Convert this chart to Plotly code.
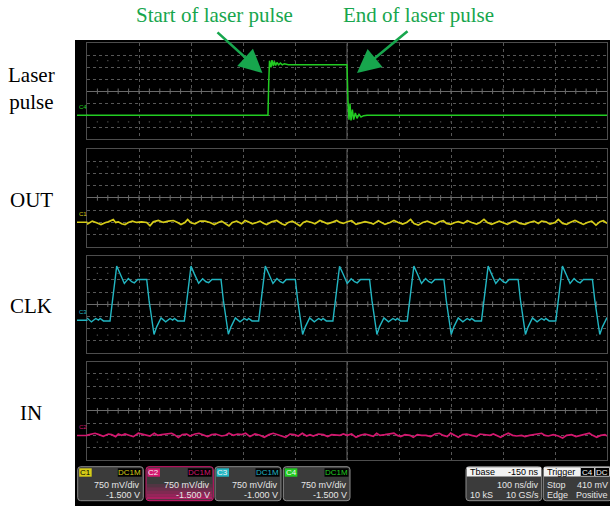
import plotly.graph_objects as go

# ---------------- data (time in ns, amplitude in divisions) ----------------
LASER_T = [0, 120, 250, 348.0, 349.4, 351.0, 353.8, 355.7, 358.3, 360.2, 362.8, 365.4, 368.6, 371.8,
           375.6, 379.5, 387.2, 440, 500.0, 501.9, 503.8, 505.8, 507.7, 510.3, 512.8, 516.0, 519.2,
           523.1, 526.9, 532.1, 538.5, 700, 1000]
LASER_V = [-2.0, -1.98, -2.0, -2.0, 0.6, 2.55, 2.0, 2.6, 2.1, 2.5, 2.15, 2.4, 2.2, 2.35,
           2.2, 2.3, 2.22, 2.23, 2.22, -0.83, -2.36, -1.03, -2.42, -1.53, -2.36, -1.81, -2.25,
           -1.92, -2.14, -2.03, -2.0, -1.99, -2.0]

OUT_T = [0.0, 2.5, 10.2, 18.6, 26.9, 35.9, 41.0, 50.6, 55.1, 60.2, 66.6, 73.1, 79.5, 87.2, 95.5,
         105.1, 114.7, 121.1, 127.5, 137.2, 146.8, 156.4, 166.0, 174.3, 180.7, 188.4, 193.6, 200.0,
         207.7, 217.3, 226.9, 236.5, 244.8, 252.5, 258.9, 266.6, 273.0, 279.5, 287.8, 297.4, 303.8,
         310.2, 317.9, 326.3, 332.7, 339.1, 345.5, 355.1, 364.7, 374.3, 380.7, 387.1, 394.8, 403.2,
         409.6, 416.0, 422.4, 432.0, 438.4, 448.0, 454.5, 462.8, 473.7, 480.1, 486.5, 492.9, 500.6,
         508.9, 517.3, 525.0, 534.6, 544.2, 550.6, 560.2, 566.6, 573.0, 582.7, 590.3, 598.7, 607.0,
         614.7, 622.4, 628.8, 637.1, 645.5, 654.4, 662.8, 669.2, 677.5, 685.2, 691.6, 699.3, 707.6,
         714.1, 723.7, 731.4, 739.7, 749.3, 755.7, 763.4, 769.8, 778.2, 786.5, 792.9, 800.6, 808.3,
         814.7, 823.0, 832.6, 842.3, 850.6, 859.6, 867.9, 874.3, 882.7, 890.3, 900.0, 906.4, 914.7,
         922.4, 928.8, 938.4, 946.7, 954.4, 962.1, 970.5, 978.8, 986.5, 992.9, 1000.0]
OUT_V = [-2.16, -2.10, -1.91, -2.05, -2.19, -2.02, -1.97, -1.78, -2.02, -1.97, -2.13, -2.19, -2.02,
         -1.91, -2.02, -1.97, -2.02, -2.30, -1.97, -1.86, -2.02, -1.91, -1.86, -2.02, -2.19, -2.02,
         -1.78, -2.05, -2.13, -1.91, -1.91, -2.02, -2.19, -2.02, -1.91, -2.13, -2.30, -2.02, -1.91,
         -2.13, -1.86, -1.97, -2.13, -2.02, -1.91, -2.08, -2.19, -1.97, -1.86, -2.13, -2.24, -2.02,
         -1.91, -2.13, -2.30, -2.02, -1.91, -2.02, -2.13, -1.86, -1.97, -2.13, -1.97, -1.86, -2.02,
         -2.10, -1.96, -1.88, -2.18, -2.10, -1.96, -2.05, -2.16, -1.88, -2.02, -2.18, -2.02, -1.86,
         -2.02, -2.16, -2.02, -1.77, -2.10, -2.24, -2.02, -1.91, -2.07, -2.18, -1.96, -1.88, -2.10,
         -2.18, -2.02, -1.96, -2.10, -1.88, -2.02, -2.16, -2.02, -1.77, -2.02, -2.18, -2.02, -1.91,
         -2.05, -2.18, -2.02, -1.88, -2.10, -2.18, -2.02, -1.91, -2.10, -1.91, -1.96, -2.16, -2.02,
         -1.77, -2.10, -2.18, -2.02, -1.86, -2.02, -2.18, -2.02, -1.91, -2.24, -1.96, -1.88, -2.10]

CLK_T = [0.0, 8.5, 16.9, 22.0, 25.2, 31.6,
         44.3, 57.1, 63.5, 71.8, 79.5, 85.9, 91.1, 97.5, 114.8, 119.3, 128.9, 134.0, 142.4, 151.3, 159.7, 164.8, 168.0, 174.4,
         187.2, 200.0, 206.4, 214.7, 222.4, 228.8, 234.0, 240.4, 257.7, 262.2, 271.8, 276.9, 285.3, 294.2, 302.6, 307.7, 310.9, 317.3,
         330.1, 342.9, 349.3, 357.6, 365.3, 371.7, 376.9, 383.3, 400.6, 405.1, 414.7, 419.8, 428.2, 437.1, 445.5, 450.6, 453.8, 460.2,
         472.9, 485.7, 492.1, 500.4, 508.1, 514.5, 519.7, 526.1, 543.4, 547.9, 557.5, 562.6, 571.0, 579.9, 588.3, 593.4, 596.6, 603.0,
         615.8, 628.6, 635.0, 643.3, 651.0, 657.4, 662.6, 669.0, 686.3, 690.8, 700.4, 705.5, 713.9, 722.8, 731.2, 736.3, 739.5, 745.9,
         758.6, 771.4, 777.8, 786.1, 793.8, 800.2, 805.4, 811.8, 829.1, 833.6, 843.2, 848.3, 856.7, 865.6, 874.0, 879.1, 882.3, 888.7,
         901.5, 914.3, 920.7, 929.0, 936.7, 943.1, 948.3, 954.7, 972.0, 976.5, 986.1, 991.2, 1000.0]
CLK_V = [-1.13, -1.46, -1.18, -1.32, -1.18, -1.38,
         -1.38, 3.14, 2.53, 1.71, 2.12, 1.85, 1.76, 2.04, 2.04, 0.33, -2.50, -1.87, -1.13, -1.46, -1.18, -1.32, -1.18, -1.38,
         -1.38, 3.14, 2.50, 1.73, 2.10, 1.85, 1.78, 2.04, 2.04, 0.33, -2.48, -1.87, -1.13, -1.46, -1.18, -1.32, -1.18, -1.38,
         -1.38, 3.14, 2.53, 1.71, 2.12, 1.85, 1.76, 2.04, 2.04, 0.33, -2.50, -1.87, -1.13, -1.46, -1.18, -1.32, -1.18, -1.38,
         -1.38, 3.12, 2.53, 1.71, 2.10, 1.85, 1.76, 2.04, 2.04, 0.33, -2.50, -1.85, -1.13, -1.46, -1.18, -1.32, -1.18, -1.38,
         -1.38, 3.14, 2.53, 1.71, 2.12, 1.85, 1.76, 2.04, 2.04, 0.33, -2.50, -1.87, -1.13, -1.46, -1.18, -1.32, -1.18, -1.38,
         -1.38, 3.14, 2.50, 1.71, 2.12, 1.85, 1.76, 2.04, 2.04, 0.33, -2.50, -1.87, -1.13, -1.46, -1.18, -1.32, -1.18, -1.38,
         -1.38, 3.14, 2.53, 1.71, 2.12, 1.85, 1.76, 2.04, 2.04, 0.33, -2.50, -1.87, -1.10]

IN_T = [0.0, 5.7, 15.4, 23.1, 31.4, 41.0, 47.4, 55.1, 60.2, 66.6, 73.1, 80.7, 89.1, 98.7, 108.3,
        114.7, 121.1, 129.5, 135.9, 143.6, 153.2, 162.8, 167.9, 175.6, 183.3, 191.6, 198.0, 207.7,
        215.3, 223.7, 232.0, 239.7, 247.4, 258.9, 266.6, 273.0, 281.4, 289.7, 297.4, 305.1, 313.4,
        323.0, 332.7, 341.0, 350.0, 358.3, 366.6, 374.3, 382.0, 390.3, 398.7, 406.4, 414.1, 422.4,
        428.8, 435.2, 444.8, 454.5, 462.8, 470.5, 480.1, 486.5, 492.9, 500.6, 508.9, 517.3, 525.0,
        534.6, 544.2, 550.6, 557.0, 563.4, 573.0, 582.7, 590.3, 596.8, 603.2, 611.5, 621.1, 627.5,
        635.2, 643.5, 651.9, 660.9, 669.2, 677.5, 685.2, 692.9, 699.3, 707.6, 714.1, 722.4, 730.1,
        739.7, 749.3, 755.7, 765.3, 775.0, 781.4, 787.8, 795.5, 803.8, 810.2, 818.5, 826.2, 835.8,
        842.3, 850.6, 859.6, 867.9, 874.3, 880.7, 887.1, 896.7, 906.4, 914.7, 922.4, 932.0, 940.3,
        949.3, 957.6, 966.0, 972.4, 980.1, 987.8, 996.1, 1000.0]
IN_V = [-1.99, -1.94, -1.83, -1.94, -2.08, -1.89, -1.94, -2.10, -1.89, -1.99, -1.89, -1.99, -2.10,
        -1.83, -1.94, -1.99, -2.05, -1.83, -1.99, -1.94, -1.89, -1.83, -1.94, -2.16, -1.94, -1.89,
        -2.05, -1.89, -1.83, -1.94, -2.10, -1.94, -1.89, -2.05, -1.99, -1.83, -1.99, -1.89, -1.94,
        -1.83, -2.10, -1.89, -1.99, -2.16, -1.94, -1.83, -1.94, -2.05, -2.16, -1.89, -1.94, -2.05,
        -1.83, -2.05, -1.94, -2.05, -1.89, -1.94, -2.10, -1.94, -1.99, -2.00, -1.89, -2.00, -1.89,
        -2.16, -2.00, -1.89, -2.00, -2.08, -1.83, -2.00, -1.94, -1.89, -1.81, -2.00, -2.10, -1.94,
        -2.00, -2.16, -1.94, -2.00, -2.00, -2.10, -1.89, -1.83, -2.00, -2.10, -1.81, -2.00, -2.16,
        -1.94, -1.89, -2.00, -2.10, -1.89, -1.94, -2.00, -1.89, -2.00, -2.16, -1.94, -1.83, -2.00,
        -2.05, -2.00, -2.10, -2.00, -1.94, -1.89, -1.83, -2.00, -2.05, -1.94, -2.05, -2.21, -2.00,
        -1.94, -2.10, -2.00, -1.89, -1.83, -2.00, -2.16, -2.00, -1.94, -2.05]

PANEL_LABELS = ["Laser<br>pulse", "OUT", "CLK", "IN"]
PANEL_CHANNELS = ["C4", "C1", "C3", "C2"]
CHANNEL_ZERO_LEVEL = [-2.0, -2.0, -1.33, -2.0]
TRIGGER_TIME = 348.7
TRIGGER_LEVEL = -1.47
ANNOTATION_TEXTS = ["Start of laser pulse", "End of laser pulse"]
ANNOTATION_TIMES = [347.0, 500.0]

BOX_CHANNELS = ["C1", "C2", "C3", "C4"]
BOX_COUPLING = ["DC1M", "DC1M", "DC1M", "DC1M"]
BOX_SCALE = ["750 mV/div", "750 mV/div", "750 mV/div", "750 mV/div"]
BOX_OFFSET = ["-1.500 V", "-1.500 V", "-1.000 V", "-1.500 V"]
TBASE_INFO = ["Tbase", "-150 ns", "100 ns/div", "10 kS", "10 GS/s"]
TRIGGER_INFO = ["Trigger", "C4", "DC", "Stop", "410 mV", "Edge", "Positive"]

# ---------------- styling / layout ----------------
W, H = 610, 506
COL = {"C1": "#d6cc18", "C2": "#d4176f", "C3": "#22b6c2", "C4": "#22cc22"}
ARROW_COL = "#17a64d"
PANEL_PX = [(43.3, 139.3), (149.3, 246.5), (255.7, 352.7), (361.5, 460.0)]
X0_PX, X1_PX = 87.0, 607.0


def px(x):
    return x / W


def py(y):
    return 1 - y / H


fig = go.Figure()
series = [(LASER_T, LASER_V), (OUT_T, OUT_V), (CLK_T, CLK_V), (IN_T, IN_V)]
widths = [1.5, 1.7, 1.4, 1.7]
shapes = []
annotations = []

# black screen
shapes.append(dict(type="rect", xref="paper", yref="paper", x0=px(75), x1=1.0, y0=0, y1=py(40),
                   fillcolor="black", line=dict(width=0), layer="below"))

tick_x = [20 * k for k in range(1, 50)]
for i, ((top, bot), (tx, tv), ch) in enumerate(zip(PANEL_PX, series, PANEL_CHANNELS)):
    n = "" if i == 0 else str(i + 1)
    fig.update_layout(**{
        "xaxis" + n: dict(domain=[px(X0_PX), px(X1_PX)], range=[0, 1000], dtick=100, tick0=0,
                         showgrid=True, gridcolor="#575757", griddash="dot", gridwidth=1,
                         showticklabels=False, ticks="", zeroline=False, showline=True,
                         linecolor="#4d4d4d", linewidth=1, mirror=True, anchor="y" + n, fixedrange=True),
        "yaxis" + n: dict(domain=[py(bot), py(top)], range=[-4, 4], dtick=1, tick0=0,
                         showgrid=True, gridcolor="#575757", griddash="dot", gridwidth=1,
                         showticklabels=False, ticks="", zeroline=True, zerolinecolor="#6a6a6a",
                         zerolinewidth=1, showline=True, linecolor="#4d4d4d", linewidth=1, mirror=True,
                         anchor="x" + n, fixedrange=True),
    })
    xr, yr = "x" + n, "y" + n
    # centre vertical line
    shapes.append(dict(type="line", xref=xr, yref=yr, x0=500, x1=500, y0=-4, y1=4,
                       line=dict(color="#666666", width=1), layer="below"))
    # tick marks on the centre line
    fig.add_trace(go.Scatter(x=tick_x, y=[0] * len(tick_x), xaxis=xr, yaxis=yr, mode="markers",
                             marker=dict(symbol="line-ns", size=4, line=dict(color="#6a6a6a", width=1)),
                             hoverinfo="skip"))
    # dotted rows
    fig.add_trace(go.Scatter(x=tick_x * 2, y=[2.55] * len(tick_x) + [-2.55] * len(tick_x), xaxis=xr, yaxis=yr,
                             mode="markers", marker=dict(symbol="square", size=1.3, color="#4a4a4a"),
                             hoverinfo="skip"))
    # signal
    fig.add_trace(go.Scatter(x=tx, y=tv, xaxis=xr, yaxis=yr, mode="lines",
                             line=dict(color=COL[ch], width=widths[i]), hoverinfo="skip"))
    # trigger marker
    fig.add_trace(go.Scatter(x=[TRIGGER_TIME], y=[-4.38], xaxis=xr, yaxis=yr, mode="markers",
                             marker=dict(symbol="triangle-up", size=6, color=COL[ch]),
                             cliponaxis=False, hoverinfo="skip"))
    # channel ground marker
    lvl = CHANNEL_ZERO_LEVEL[i]
    shapes.append(dict(type="line", xref="paper", yref=yr, x0=px(77), x1=px(87.5), y0=lvl, y1=lvl,
                       line=dict(color=COL[ch], width=1.5)))
    annotations.append(dict(x=px(77), y=lvl + 0.25, xref="paper", yref=yr, text=ch, showarrow=False,
                            xanchor="left", yanchor="bottom", font=dict(size=6, color=COL[ch],
                                                                          family="Liberation Sans")))
    # left label
    annotations.append(dict(x=px(31), y=py((top + bot) / 2 + (-3 if i == 0 else 2)), xref="paper", yref="paper",
                            text=PANEL_LABELS[i], showarrow=False, xanchor="center", yanchor="middle",
                            font=dict(size=21, color="black", family="Liberation Serif")))

# trigger level marker at the right edge of the laser panel
fig.add_trace(go.Scatter(x=[1004], y=[TRIGGER_LEVEL], xaxis="x", yaxis="y", mode="markers",
                         marker=dict(symbol="triangle-left", size=5, color=COL["C4"]),
                         cliponaxis=False, hoverinfo="skip"))

# top annotations with arrows
text_x = [214, 418]
tails = [(216, 31), (409, 30)]
tips_y = 73
for txt_, tt, tx_, (ax_, ay_) in zip(ANNOTATION_TEXTS, ANNOTATION_TIMES, text_x, tails):
    annotations.append(dict(x=px(tx_), y=py(15), xref="paper", yref="paper", text=txt_, showarrow=False,
                            xanchor="center", yanchor="middle",
                            font=dict(size=21, color=ARROW_COL, family="Liberation Serif")))
    tip_px = X0_PX + tt / 1000 * (X1_PX - X0_PX) + (-5 if tt < 400 else 10)
    annotations.append(dict(x=px(tip_px), y=py(tips_y), xref="paper", yref="paper", text="",
                            showarrow=True, ax=ax_ - tip_px, ay=ay_ - tips_y, arrowhead=2, arrowsize=1.8,
                            arrowwidth=2.6, arrowcolor=ARROW_COL, standoff=0))


def rrect(x0, y0, x1, y1, r=3):
    # rounded rectangle path in paper coordinates from pixel box
    rx, ry = r / W, r / H
    a, b, c, d = px(x0), px(x1), py(y1), py(y0)
    return (f"M{a + rx},{c} L{b - rx},{c} Q{b},{c} {b},{c + ry} L{b},{d - ry} Q{b},{d} {b - rx},{d} "
            f"L{a + rx},{d} Q{a},{d} {a},{d - ry} L{a},{c + ry} Q{a},{c} {a + rx},{c} Z")


def txt(x, y, s, color="#e6e6e6", anchor="left", size=9):
    annotations.append(dict(x=px(x), y=py(y), xref="paper", yref="paper", text=s, showarrow=False,
                            xanchor=anchor, yanchor="middle",
                            font=dict(size=size, color=color, family="Liberation Sans")))


def rect(x0, y0, x1, y1, fill, line=None):
    shapes.append(dict(type="rect", xref="paper", yref="paper", x0=px(x0), x1=px(x1), y0=py(y1), y1=py(y0),
                       fillcolor=fill, line=line or dict(width=0)))


# channel boxes
box_x = [(77.7, 143.3), (146.0, 213.3), (215.0, 281.0), (283.3, 350.0)]
BY0, BY1 = 466.7, 500.7
for ch, cp, sc, off, (bx0, bx1) in zip(BOX_CHANNELS, BOX_COUPLING, BOX_SCALE, BOX_OFFSET, box_x):
    sel = ch == "C2"
    shapes.append(dict(type="path", xref="paper", yref="paper", path=rrect(bx0, BY0, bx1, BY1),
                       fillcolor="#3b3b3b", line=dict(color=COL[ch] if sel else "#8c8c8c", width=1)))
    if sel:
        for k, a in enumerate([0.15, 0.3, 0.45, 0.6, 0.75]):
            rect(bx0 + 1, 484 + k * 3.2, bx1 - 1, 484 + (k + 1) * 3.2 - (0.7 if k == 4 else 0),
                 f"rgba(212,23,111,{a})")
    rect(bx0 + 1.5, 468.3, bx0 + 14, 476.7, COL[ch])
    txt(bx0 + 7.7, 472.5, ch, color="black" if ch == "C1" else "#f4f4f4", anchor="center", size=8)
    rect(bx1 - 25.5, 468.3, bx1 - 1.5, 476.7, "black")
    txt(bx1 - 13.5, 472.5, cp, color=COL[ch], anchor="center", size=8)
    txt(bx1 - 1.5, 484.5, sc, anchor="right")
    txt(bx1 - 1.5, 494.5, off, anchor="right")

# timebase box
shapes.append(dict(type="path", xref="paper", yref="paper", path=rrect(466.0, BY0, 541.7, BY1),
                   fillcolor="#3b3b3b", line=dict(color="#8c8c8c", width=1)))
rect(466.8, 467.3, 541.0, 476.5, "#f2f2f2")
txt(468, 472, TBASE_INFO[0], color="black")
txt(540.5, 472, TBASE_INFO[1], color="black", anchor="right")
txt(540.5, 484.5, TBASE_INFO[2], anchor="right")
txt(468, 494.5, TBASE_INFO[3])
txt(540.5, 494.5, TBASE_INFO[4], anchor="right")

# trigger box
shapes.append(dict(type="path", xref="paper", yref="paper", path=rrect(543.3, BY0, 612.0, BY1),
                   fillcolor="#3b3b3b", line=dict(color="#8c8c8c", width=1)))
rect(544.0, 467.3, 580.0, 476.5, "#f2f2f2")
txt(545, 472, TRIGGER_INFO[0], color="black")
rect(580.5, 467.5, 594.5, 476.3, "black", dict(color="#dddddd", width=0.8))
txt(587.5, 472, TRIGGER_INFO[1], color="#f4f4f4", anchor="center", size=8)
rect(595.0, 467.5, 609.5, 476.3, "black", dict(color="#dddddd", width=0.8))
txt(602.2, 472, TRIGGER_INFO[2], color="#f4f4f4", anchor="center", size=8)
txt(545, 484.5, TRIGGER_INFO[3])
txt(609.5, 484.5, TRIGGER_INFO[4], anchor="right")
txt(545, 494.5, TRIGGER_INFO[5])
txt(609.5, 494.5, TRIGGER_INFO[6], anchor="right")

fig.update_layout(width=W, height=H, margin=dict(l=0, r=0, t=0, b=0), paper_bgcolor="white",
                  plot_bgcolor="black", showlegend=False, shapes=shapes, annotations=annotations)
fig.write_html("out.html", config={"displayModeBar": False},
               post_script="document.body.style.margin='0';document.body.style.padding='0';"
                           "document.body.style.overflow='hidden';")
